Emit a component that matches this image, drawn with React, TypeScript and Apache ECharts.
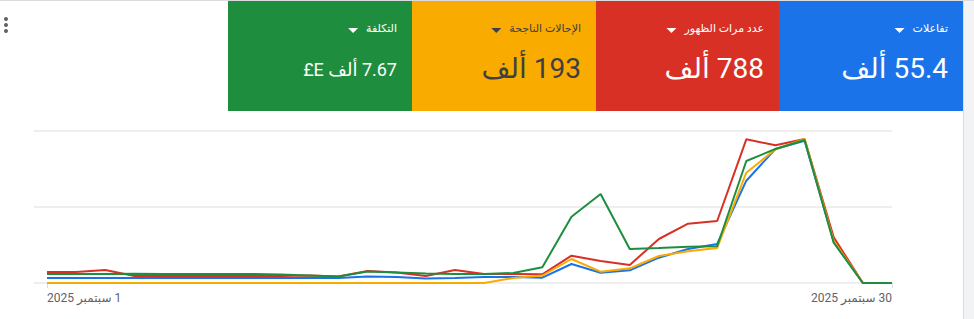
import React, { useEffect, useRef } from "react";
import * as echarts from "echarts";

// ---- data ----
const dateLabels = ["1 سبتمبر 2025", "30 سبتمبر 2025"];
const labelDays = [0, 29];

// relative heights (same visual scale, 0..152)
const interactions = [5, 5, 5, 5, 5, 5, 5, 5, 5, 5, 5, 6.5, 6, 4.5, 5, 6, 6, 5.3, 19, 10.3, 12.7, 25.3, 34, 39, 102.3, 134, 142.3, 41, 0, 0];
const impressions = [11, 11, 13, 7, 7, 7, 7, 7, 7, 7.5, 6.5, 12, 10.5, 7, 13, 9, 9, 8.7, 27.3, 22, 18, 44, 59.3, 62, 143.7, 137.7, 144, 45.7, 0, 0];
const conversions = [0, 0, 0, 0, 0, 0, 0, 0, 0, 0, 0, 0, 0, 0, 0, 0, 5, 7.5, 24, 11.3, 14.7, 27, 31.7, 35, 110.3, 133.7, 144, 42, 0, 0];
const cost = [9, 9, 9, 9.3, 9, 9, 9, 9, 8.5, 7.5, 6.5, 11.5, 10.5, 9.5, 9, 9, 10, 15.7, 66.3, 89, 34, 35, 36.3, 36.7, 122, 134, 143, 40.3, 0, 0];

const cardTitles = ["التكلفة", "الإحالات الناجحة", "عدد مرات الظهور", "تفاعلات"];
const cardValues = ["7.67 ألف E£", "193 ألف", "788 ألف", "55.4 ألف"];

const BLUE = "#1a73e8";
const RED = "#d93025";
const YELLOW = "#f9ab00";
const GREEN = "#1e8e3e";

const rtl = (s: string) => "\u202B" + s + "\u202C";

export default function App() {
  const ref = useRef<HTMLDivElement>(null);
  useEffect(() => {
    if (!ref.current) return;
    const chart = echarts.init(ref.current, undefined, { renderer: "svg" });
    const font = "Roboto, 'DejaVu Sans', sans-serif";
    const titleSize = 11;

    const measure = (s: string, size: number) => {
      const cv = document.createElement("canvas");
      const ctx = cv.getContext("2d");
      if (!ctx) return s.length * size * 0.5;
      ctx.font = `${size}px ${font}`;
      return ctx.measureText(s).width;
    };

    const cards = [
      { x: 228, w: 184, fill: GREEN, text: "#ffffff", valueSize: 18 },
      { x: 412, w: 184, fill: YELLOW, text: "#3c4043", valueSize: 28 },
      { x: 596, w: 183, fill: RED, text: "#ffffff", valueSize: 28 },
      { x: 779, w: 184, fill: BLUE, text: "#ffffff", valueSize: 28 },
    ];

    const graphic: any[] = [
      { type: "rect", shape: { x: 0, y: 0, width: 974, height: 1 }, style: { fill: "#dadce0" }, silent: true },
      { type: "rect", shape: { x: 964, y: 1, width: 10, height: 318 }, style: { fill: "#f1f3f4" }, silent: true },
      { type: "rect", shape: { x: 963, y: 1, width: 1, height: 318 }, style: { fill: "#dadce0" }, silent: true },
      { type: "circle", shape: { cx: 6, cy: 19, r: 2 }, style: { fill: "#5f6368" } },
      { type: "circle", shape: { cx: 6, cy: 25, r: 2 }, style: { fill: "#5f6368" } },
      { type: "circle", shape: { cx: 6, cy: 31, r: 2 }, style: { fill: "#5f6368" } },
    ];

    cards.forEach((c, i) => {
      const right = c.x + c.w - 15;
      const tw = measure(cardTitles[i], titleSize);
      const tri = right - tw - 8 - 10;
      graphic.push({ type: "rect", shape: { x: c.x, y: 1, width: c.w, height: 110 }, style: { fill: c.fill }, silent: true });
      graphic.push({
        type: "text",
        x: right,
        y: 28,
        style: { text: rtl(cardTitles[i]), fill: c.text, fontSize: titleSize, fontFamily: font, align: "right", verticalAlign: "middle" },
      });
      graphic.push({
        type: "polygon",
        shape: { points: [[tri, 28], [tri + 10, 28], [tri + 5, 33]] },
        style: { fill: c.text },
      });
      graphic.push({
        type: "text",
        x: right,
        y: c.valueSize === 28 ? 68 : 69,
        style: { text: rtl(cardValues[i]), fill: c.text, fontSize: c.valueSize, fontFamily: font, align: "right", verticalAlign: "middle" },
      });
    });

    const mk = (name: string, data: number[], color: string) => ({
      name,
      type: "line",
      data: data.map((v, i) => [i, v]),
      symbol: "none",
      smooth: false,
      lineStyle: { width: 2, color },
      itemStyle: { color },
      z: 3,
    });

    chart.setOption({
      animation: false,
      backgroundColor: "#ffffff",
      grid: { left: 34, right: 82, top: 131, bottom: 36, containLabel: false, outerBoundsMode: "none" },
      xAxis: {
        type: "value",
        min: -0.446,
        max: 29,
        axisLine: { show: false },
        splitLine: { show: false },
        axisTick: { show: true, customValues: labelDays, length: 5, lineStyle: { color: "#dadce0", width: 1 } },
        axisLabel: {
          customValues: labelDays,
          formatter: (v: number) => rtl(dateLabels[labelDays.indexOf(Math.round(v))] ?? ""),
          color: "#5f6368",
          fontSize: 12,
          fontFamily: font,
          margin: 9,
          alignMinLabel: "left",
          alignMaxLabel: "right",
        },
      },
      yAxis: {
        type: "value",
        min: 0,
        max: 152,
        interval: 76,
        axisLine: { show: false },
        axisTick: { show: false },
        axisLabel: { show: false },
        splitLine: { show: true, lineStyle: { color: "#eeeeee", width: 2 } },
      },
      series: [
        mk("تفاعلات", interactions, BLUE),
        mk("عدد مرات الظهور", impressions, RED),
        mk("الإحالات الناجحة", conversions, YELLOW),
        mk("التكلفة", cost, GREEN),
      ],
      graphic,
    });
    return () => chart.dispose();
  }, []);
  return <div ref={ref} style={{ position: "absolute", left: 0, top: 0, width: 974, height: 319 }} />;
}
